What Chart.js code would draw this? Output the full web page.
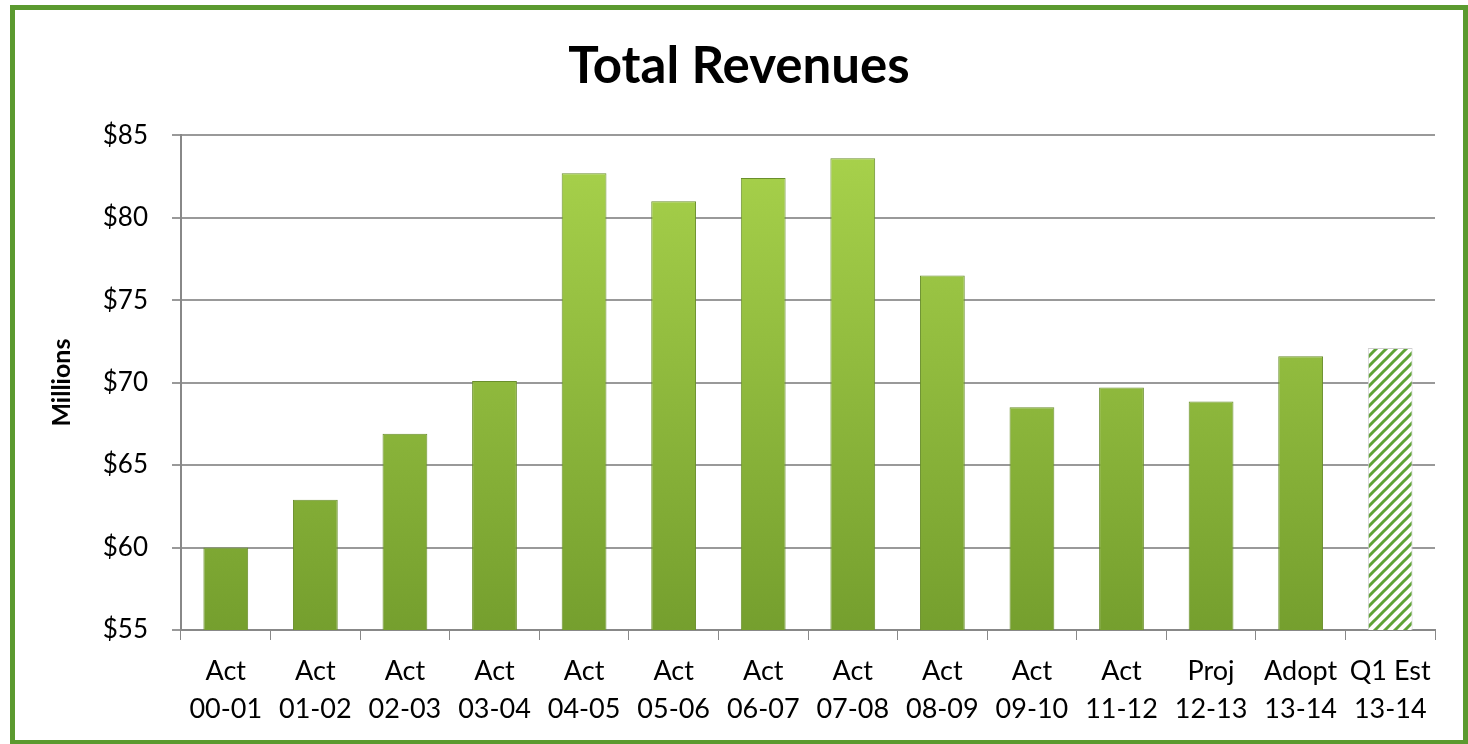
<!DOCTYPE html>
<html lang="en">
<head>
    <meta charset="UTF-8">
    <title>Total Revenues</title>
    <script src="https://cdn.jsdelivr.net/npm/chart.js"></script>
    <style>
        body {
            margin: 0;
            background: #fff;
        }
        #frame {
            position: absolute;
            left: 10px;
            top: 5px;
            width: 1448px;
            height: 730px;
            border: 5px solid #5b9a2f;
        }
    </style>
</head>
<body>
    <div id="frame"><canvas id="revChart" width="1448" height="730"></canvas></div>
    <script>
        // chart values
        const periodLabels = [
            ['Act', '00-01'], ['Act', '01-02'], ['Act', '02-03'], ['Act', '03-04'],
            ['Act', '04-05'], ['Act', '05-06'], ['Act', '06-07'], ['Act', '07-08'],
            ['Act', '08-09'], ['Act', '09-10'], ['Act', '11-12'], ['Proj', '12-13'],
            ['Adopt', '13-14'], ['Q1 Est', '13-14']
        ];
        const revenues = [60.0, 62.9, 66.9, 70.1, 82.7, 81.0, 82.4, 83.6, 76.5, 68.5, 69.7, 68.85, 71.6, 72.1];
        const estimateIndex = 13;
        const yTicks = [55, 60, 65, 70, 75, 80, 85];

        // striped fill for the estimate bar
        function stripePattern() {
            const c = document.createElement('canvas');
            c.width = 10;
            c.height = 10;
            const g = c.getContext('2d');
            g.fillStyle = '#ffffff';
            g.fillRect(0, 0, 10, 10);
            g.strokeStyle = '#5fa336';
            g.lineWidth = 3;
            g.beginPath();
            g.moveTo(-5, 5); g.lineTo(5, -5);
            g.moveTo(0, 10); g.lineTo(10, 0);
            g.moveTo(5, 15); g.lineTo(15, 5);
            g.stroke();
            return g.createPattern(c, 'repeat');
        }
        const stripes = stripePattern();

        const ctx = document.getElementById('revChart').getContext('2d');
        new Chart(ctx, {
            type: 'bar',
            data: {
                labels: periodLabels,
                datasets: [{
                    data: revenues,
                    backgroundColor: function (context) {
                        if (context.dataIndex === estimateIndex) return stripes;
                        const area = context.chart.chartArea;
                        if (!area) return '#8ab83c';
                        const grad = context.chart.ctx.createLinearGradient(0, area.top, 0, area.bottom);
                        grad.addColorStop(0, '#a9d34c');
                        grad.addColorStop(1, '#759f2e');
                        return grad;
                    },
                    borderColor: revenues.map((v, i) => i === estimateIndex ? '#cfcfcf' : '#6a8f2c'),
                    borderWidth: 1,
                    barPercentage: 0.5,
                    categoryPercentage: 1.0
                }]
            },
            options: {
                responsive: false,
                animation: false,
                layout: { padding: { left: 28, right: 28, top: 20, bottom: 9 } },
                plugins: {
                    legend: { display: false },
                    tooltip: { enabled: false },
                    title: {
                        display: true,
                        text: 'Total Revenues',
                        color: '#000',
                        font: { family: 'Lato', size: 51, weight: 'bold' },
                        padding: { top: 6, bottom: 38 }
                    }
                },
                scales: {
                    x: {
                        afterFit: axis => { axis.height = 101; },
                        grid: {
                            offset: true,
                            drawOnChartArea: false,
                            color: '#888',
                            tickLength: 10
                        },
                        border: { color: '#888', width: 2 },
                        ticks: {
                            color: '#000',
                            font: { family: 'Lato', size: 27, lineHeight: 1.38 },
                            padding: 13,
                            maxRotation: 0,
                            autoSkip: false
                        }
                    },
                    y: {
                        min: 55,
                        max: 85,
                        afterBuildTicks: axis => {
                            axis.ticks = yTicks.map(v => ({ value: v }));
                        },
                        afterFit: axis => { axis.width = 138; },
                        grid: { color: '#999', lineWidth: 2, tickLength: 9 },
                        border: { color: '#888', width: 2 },
                        title: {
                            display: true,
                            text: 'Millions',
                            color: '#000',
                            font: { family: 'Lato', size: 25, weight: 'bold' },
                            padding: { bottom: 20 }
                        },
                        ticks: {
                            color: '#000',
                            font: { family: 'Lato', size: 26 },
                            padding: 24,
                            callback: v => '$' + v
                        }
                    }
                }
            }
        });
    </script>
</body>
</html>
